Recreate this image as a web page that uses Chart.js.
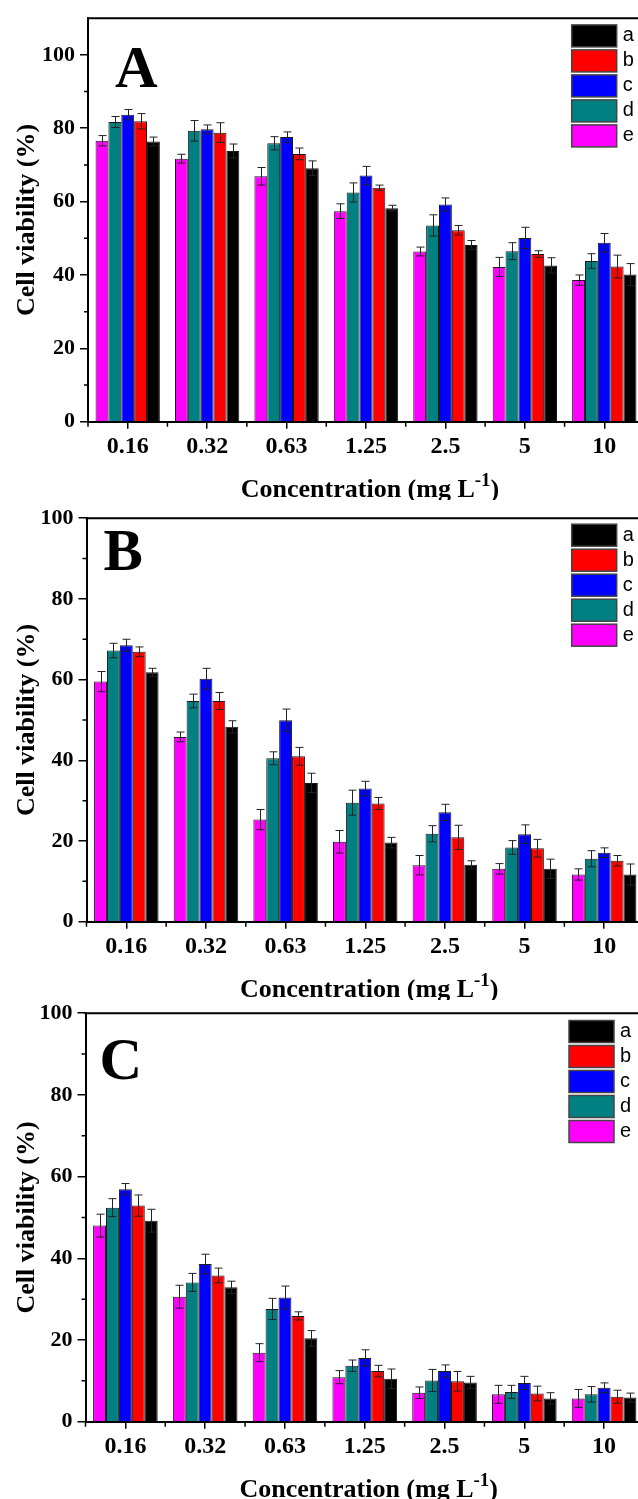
<!DOCTYPE html>
<html>
<head>
<meta charset="utf-8">
<script src="https://cdn.jsdelivr.net/npm/chart.js@4.4.0/dist/chart.umd.min.js"></script>
<style>
  body { margin: 0; background: #fff; overflow: hidden; }
  #wrap { position: relative; width: 638px; height: 1499px; overflow: hidden; background: #fff; }
  #wrap canvas { position: absolute; left: 0; }
</style>
</head>
<body>
<div id="wrap">
  <canvas id="chartA" width="645" height="500" style="top:0px"></canvas>
  <canvas id="chartB" width="645" height="500" style="top:500px"></canvas>
  <canvas id="chartC" width="645" height="504" style="top:995px"></canvas>
</div>
<script>
// categories / series
const concentrations = ["0.16", "0.32", "0.63", "1.25", "2.5", "5", "10"];
const seriesNames = ["e", "d", "c", "b", "a"]; // bar order inside a group
const seriesColors = ["#ff00ff", "#008080", "#0000ff", "#ff0000", "#000000"];
const yTickValues = [0, 20, 40, 60, 80, 100];
const yMinorValues = [10, 30, 50, 70, 90];

// panel A (mean, error)
const aE = [76.6, 71.7, 66.9, 57.4, 46.4, 42.2, 38.6];
const aD = [81.7, 79.3, 75.9, 62.5, 53.5, 46.5, 43.8];
const aC = [83.7, 79.7, 77.6, 67.1, 59.2, 50.1, 48.8];
const aB = [81.9, 78.8, 73.0, 63.8, 52.2, 45.7, 42.3];
const aA = [76.4, 73.8, 69.1, 58.2, 48.2, 42.6, 40.1];
const aEErr = [1.4, 1.2, 2.4, 2.0, 1.2, 2.6, 1.4];
const aDErr = [1.5, 2.8, 1.8, 2.6, 2.9, 2.3, 2.0];
const aCErr = [1.4, 1.2, 1.4, 2.5, 1.8, 2.9, 2.5];
const aBErr = [2.1, 2.7, 1.6, 0.7, 1.3, 0.9, 3.1];
const aAErr = [1.2, 1.9, 2.0, 0.8, 1.2, 2.1, 3.0];

// panel B
const bE = [59.5, 45.8, 25.3, 19.8, 14.0, 13.1, 11.7];
const bD = [67.2, 54.7, 40.5, 29.5, 21.8, 18.4, 15.6];
const bC = [68.5, 60.2, 49.9, 33.0, 27.1, 21.7, 17.1];
const bB = [66.9, 54.7, 41.0, 29.3, 20.9, 18.2, 15.1];
const bA = [61.8, 48.3, 34.4, 19.6, 14.1, 13.1, 11.7];
const bEErr = [2.5, 1.2, 2.5, 2.8, 2.4, 1.3, 1.4];
const bDErr = [1.8, 1.7, 1.6, 3.1, 2.0, 1.7, 2.0];
const bCErr = [1.5, 2.6, 2.8, 1.8, 2.0, 2.3, 1.2];
const bBErr = [1.2, 2.1, 2.2, 1.5, 3.0, 2.2, 1.3];
const bAErr = [1.0, 1.5, 2.4, 1.3, 1.0, 2.4, 2.6];

// panel C
const cE = [48.0, 30.6, 16.9, 10.9, 7.1, 6.7, 5.7];
const cD = [52.4, 34.1, 27.6, 13.7, 10.1, 7.3, 6.7];
const cC = [56.9, 38.6, 30.4, 15.6, 12.4, 9.5, 8.3];
const cB = [52.9, 35.8, 25.9, 12.4, 9.9, 6.9, 6.1];
const cA = [49.2, 32.9, 20.4, 10.5, 9.6, 5.7, 5.9];
const cEErr = [2.8, 2.8, 2.2, 1.6, 1.4, 2.2, 2.2];
const cDErr = [2.2, 2.2, 2.6, 1.4, 2.7, 1.6, 1.9];
const cCErr = [1.4, 2.4, 2.8, 2.0, 1.5, 1.6, 1.2];
const cBErr = [2.6, 1.8, 1.0, 1.4, 2.4, 1.8, 1.6];
const cAErr = [2.8, 1.5, 1.9, 2.4, 1.5, 1.4, 1.1];

const serif = "'Liberation Serif', 'Times New Roman', serif";
const sans = "'Liberation Sans', Arial, sans-serif";

// error bars, frame, minor ticks, panel letter, legend and x title
const decorPlugin = {
  id: "decor",
  afterDatasetsDraw(chart) {
    const ctx = chart.ctx;
    const yScale = chart.scales.y;
    ctx.save();
    ctx.strokeStyle = "#222";
    ctx.lineWidth = 1;
    chart.data.datasets.forEach((ds, i) => {
      const meta = chart.getDatasetMeta(i);
      meta.data.forEach((bar, j) => {
        const v = ds.data[j];
        const e = ds.errors[j];
        const x = Math.round(bar.x) + 0.5;
        const y1 = yScale.getPixelForValue(v + e);
        const y2 = yScale.getPixelForValue(v - e);
        ctx.beginPath();
        ctx.moveTo(x, y1); ctx.lineTo(x, y2);
        ctx.moveTo(x - 4, y1); ctx.lineTo(x + 4, y1);
        ctx.moveTo(x - 4, y2); ctx.lineTo(x + 4, y2);
        ctx.stroke();
      });
    });
    ctx.restore();
  },
  afterDraw(chart, args, opts) {
    const ctx = chart.ctx;
    const area = chart.chartArea;
    const xs = chart.scales.x;
    const ys = chart.scales.y;
    ctx.save();
    ctx.strokeStyle = "#000";
    ctx.lineWidth = 2;
    ctx.beginPath();
    ctx.moveTo(area.left - 1, area.top);
    ctx.lineTo(area.right, area.top);
    ctx.lineTo(area.right, area.bottom);
    ctx.stroke();

    // minor ticks
    ctx.lineWidth = 1.5;
    ctx.beginPath();
    yMinorValues.forEach(v => {
      const y = ys.getPixelForValue(v);
      ctx.moveTo(area.left, y); ctx.lineTo(area.left - 4, y);
    });
    const n = concentrations.length;
    const step = (area.right - area.left) / n;
    for (let i = 0; i <= n; i++) {
      const x = xs.getPixelForValue(0) - step / 2 + i * step;
      ctx.moveTo(x, area.bottom); ctx.lineTo(x, area.bottom + 5);
    }
    ctx.stroke();

    // panel letter
    ctx.fillStyle = "#000";
    ctx.font = "bold 59px " + serif;
    ctx.textBaseline = "alphabetic";
    ctx.textAlign = "left";
    ctx.fillText(opts.letter, area.left + opts.letterDx, area.top + opts.letterDy);

    // legend (a..e, top to bottom)
    const items = chart.data.datasets.slice().reverse();
    ctx.font = "20px " + sans;
    ctx.textBaseline = "middle";
    items.forEach((ds, k) => {
      const lx = area.right + opts.legendDx;
      const ly = area.top + opts.legendDy + k * 25;
      ctx.fillStyle = ds.backgroundColor;
      ctx.fillRect(lx, ly, 45, 22);
      ctx.strokeStyle = "#444";
      ctx.lineWidth = 1.5;
      ctx.strokeRect(lx, ly, 45, 22);
      ctx.fillStyle = "#000";
      ctx.fillText(ds.label, lx + 51, ly + 11);
    });

    // x title with superscript
    const main = "Concentration (mg L";
    const sup = "-1";
    const close = ")";
    const mainFont = "bold 26px " + serif;
    const supFont = "bold 19px " + serif;
    ctx.font = mainFont;
    const w1 = ctx.measureText(main).width;
    const w3 = ctx.measureText(close).width;
    ctx.font = supFont;
    const w2 = ctx.measureText(sup).width;
    const total = w1 + w2 + w3;
    let tx = (area.left + area.right) / 2 + 4 - total / 2;
    const base = area.bottom + 75;
    ctx.textBaseline = "alphabetic";
    ctx.font = mainFont;
    ctx.fillText(main, tx, base);
    tx += w1;
    ctx.font = supFont;
    ctx.fillText(sup, tx, base - 11);
    tx += w2;
    ctx.font = mainFont;
    ctx.fillText(close, tx, base);
    ctx.restore();
  }
};

function makePanel(id, series, errors, yMax, layout) {
  const datasets = series.map((vals, i) => ({
    label: seriesNames[i],
    data: vals,
    errors: errors[i],
    backgroundColor: seriesColors[i],
    borderColor: "#1a1a1a",
    borderWidth: 1,
    barPercentage: 1,
    categoryPercentage: 0.81
  }));

  return new Chart(document.getElementById(id), {
    type: "bar",
    data: { labels: concentrations, datasets: datasets },
    options: {
      responsive: false,
      animation: false,
      layout: { padding: { top: layout.top, right: 1, bottom: 0, left: 0 } },
      plugins: {
        legend: { display: false },
        tooltip: { enabled: false },
        decor: layout.decor
      },
      scales: {
        x: {
          afterFit: s => { s.height = layout.xAxisH; },
          grid: { offset: false, drawOnChartArea: false, tickLength: 7, color: "#000", lineWidth: 1.5 },
          border: { color: "#000", width: 2 },
          ticks: {
            color: "#000",
            font: { family: serif, size: 24, weight: "bold" },
            padding: 4,
            maxRotation: 0,
            autoSkip: false
          }
        },
        y: {
          min: 0,
          max: yMax,
          afterFit: s => { s.width = layout.yAxisW; },
          afterBuildTicks: s => {
            s.ticks = yTickValues.filter(v => v <= s.max).map(v => ({ value: v }));
          },
          grid: { drawOnChartArea: false, tickLength: 8, color: "#000", lineWidth: 1.5 },
          border: { color: "#000", width: 2 },
          ticks: {
            color: "#000",
            font: { family: serif, size: 22, weight: "bold" },
            padding: 5
          },
          title: {
            display: true,
            text: "Cell viability (%)",
            color: "#000",
            font: { family: serif, size: 26, weight: "bold" },
            padding: { top: 12, bottom: 0 }
          }
        }
      }
    },
    plugins: [decorPlugin]
  });
}

makePanel("chartA", [aE, aD, aC, aB, aA], [aEErr, aDErr, aCErr, aBErr, aAErr], 110, {
  top: 10, yAxisW: 88, xAxisH: 78.3,
  decor: { letter: "A", letterDx: 27, letterDy: 69, legendDx: -72.3, legendDy: 6.7 }
});
makePanel("chartB", [bE, bD, bC, bB, bA], [bEErr, bDErr, bCErr, bBErr, bAErr], 100, {
  top: 10.7, yAxisW: 86.5, xAxisH: 78.3,
  decor: { letter: "B", letterDx: 17, letterDy: 52, legendDx: -72.3, legendDy: 6 }
});
makePanel("chartC", [cE, cD, cC, cB, cA], [cEErr, cDErr, cCErr, cBErr, cAErr], 100, {
  top: 11.7, yAxisW: 85.5, xAxisH: 77.3,
  decor: { letter: "C", letterDx: 14, letterDy: 66, legendDx: -75, legendDy: 7.3 }
});
</script>
</body>
</html>
